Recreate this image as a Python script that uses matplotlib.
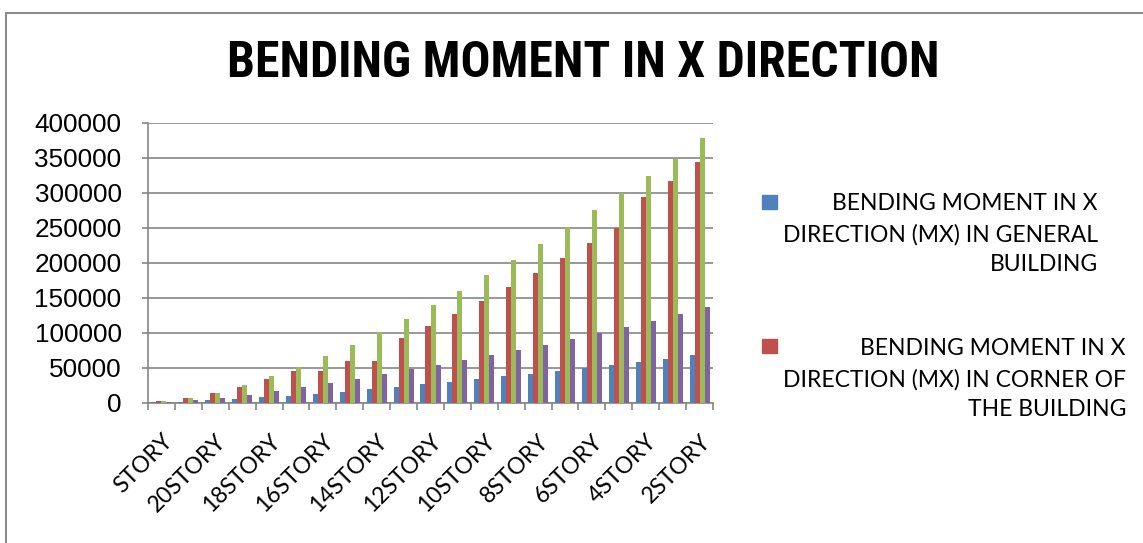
import numpy as np
import matplotlib
matplotlib.use("Agg")
import matplotlib.pyplot as plt
from matplotlib.patches import Rectangle
from matplotlib import font_manager

# categories (top storey first), only every other one is labelled on the axis
stories = ["STORY", "21STORY", "20STORY", "19STORY", "18STORY", "17STORY", "16STORY",
           "15STORY", "14STORY", "13STORY", "12STORY", "11STORY", "10STORY", "9STORY",
           "8STORY", "7STORY", "6STORY", "5STORY", "4STORY", "3STORY", "2STORY"]

mx_general = [300, 1000, 3300, 5100, 7600, 9800, 12400, 15700, 19100, 22400, 26300,
              29600, 33400, 37700, 41400, 45300, 50000, 53400, 57700, 62400, 67700]
mx_corner = [1800, 6600, 13700, 22900, 34300, 45700, 45700, 59600, 59600, 92000, 109400,
             127100, 145700, 165300, 185300, 206300, 227700, 249100, 293400, 316700, 343900]
series_3 = [2000, 6600, 14300, 24700, 37600, 50600, 66300, 82000, 100600, 120000, 140100,
            160000, 182000, 203900, 226700, 250600, 275300, 299100, 323900, 348100, 378600]
series_4 = [600, 3300, 6600, 11400, 16600, 22000, 27700, 33900, 40600, 47700, 53900,
            60600, 67700, 75300, 82400, 90600, 99100, 108100, 117100, 126700, 137100]

legend_labels = ["BENDING MOMENT IN X\nDIRECTION (MX) IN GENERAL\nBUILDING",
                 "BENDING MOMENT IN X\nDIRECTION (MX) IN CORNER OF\nTHE BUILDING"]
colors = ["#4F81BD", "#C0504D", "#9BBB59", "#8064A2"]
title = "BENDING MOMENT IN X DIRECTION"

W, H = 1143, 543
fig = plt.figure(figsize=(W / 100, H / 100), dpi=100)

# chart frame (cut off at right and bottom)
fig.patches.append(Rectangle((6 / W, -0.1), 1.2, (H - 13) / H + 0.1,
                             transform=fig.transFigure, fill=False,
                             edgecolor="#8c8c8c", lw=1.5))

ax = fig.add_axes([148 / W, (H - 402.7) / H, (713 - 148) / W, 280 / H])

x = np.arange(len(stories))
bw = 0.186
data = [mx_general, mx_corner, series_3, series_4]
for i, (vals, c) in enumerate(zip(data, colors)):
    ax.bar(x + (i - 1.5) * bw, vals, width=bw, color=c, zorder=3)

ax.set_xlim(-0.5, len(stories) - 0.5)
ax.set_ylim(0, 400000)
ax.set_yticks(np.arange(0, 400001, 50000))
ax.yaxis.grid(True, color="#868686", lw=1.2, zorder=0)
for s in ["top", "right"]:
    ax.spines[s].set_visible(False)
for s in ["left", "bottom"]:
    ax.spines[s].set_color("#868686")
    ax.spines[s].set_linewidth(1.2)

ax.tick_params(axis="y", length=4, width=1.2, color="#868686", pad=15,
               labelsize=18.8)
for t in ax.get_yticklabels():
    t.set_family(["Liberation Sans", "DejaVu Sans"])

# tick marks between categories, labels at centres
ax.set_xticks(np.arange(-0.5, len(stories), 1.0))
ax.set_xticklabels([])
ax.tick_params(axis="x", which="major", length=5, width=1.2, color="#868686")
ax.set_xticks(x[::2], minor=True)
ax.set_xticklabels(stories[::2], minor=True, rotation=45, ha="right",
                   rotation_mode="anchor", fontsize=16.5, family=["Lato", "DejaVu Sans"])
ax.tick_params(axis="x", which="minor", length=0, pad=20)

# title: narrowest bold family available, sized to the reference width
names = {f.name for f in font_manager.fontManager.ttflist}
title_fam = "DejaVu Sans"
for cand in ["Liberation Sans Narrow", "Roboto Condensed", "Open Sans Condensed",
             "DejaVu Sans Condensed", "Noto Sans Condensed", "Roboto", "Liberation Sans"]:
    if cand in names:
        title_fam = cand
        break
tt = fig.text(583 / W, (H - 77) / H, title, ha="center", va="baseline",
              fontsize=34, fontweight="bold", family=title_fam)
r = fig.canvas.get_renderer()
wpx = tt.get_window_extent(r).width
tt.set_fontsize(34 * 713 / wpx)

# legend (Excel shows only the first two entries)
leg_top = [193, 338]
sq_top = [195, 339]
for k in range(2):
    fig.patches.append(Rectangle((762 / W, (H - sq_top[k] - 14) / H), 15 / W, 14 / H,
                                 transform=fig.transFigure, color=colors[k]))
    fig.text(783 / W, (H - leg_top[k]) / H, legend_labels[k], ha="left", va="top",
             multialignment="right", fontsize=16.5, linespacing=1.55,
             family=["Lato", "DejaVu Sans"])

fig.savefig("out.png", dpi=100)
